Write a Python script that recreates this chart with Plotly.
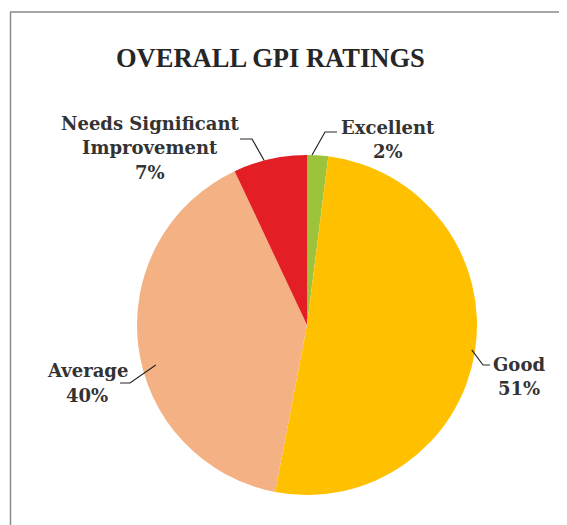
import math
import plotly.graph_objects as go

# ---- data ----
categories = ["Excellent", "Good", "Average", "Needs Significant<br>Improvement"]
values = [2, 51, 40, 7]
colors = ["#9DC23B", "#FFC000", "#F4B183", "#E31E25"]

W, H = 567, 525
OFF = 8  # page body margin offset
CX, CY, R = 307, 325, 170  # pie centre / radius in pixels (as seen on screen)

def px(x):
    return (x - OFF) / W

def py(y):
    return 1 - (y - OFF) / H

fig = go.Figure(go.Pie(
    labels=categories, values=values, sort=False, direction="clockwise",
    rotation=0, marker=dict(colors=colors, line=dict(width=0)),
    textinfo="none", hoverinfo="label+percent", showlegend=False,
    domain=dict(x=[px(CX - R), px(CX + R)], y=[py(CY + R), py(CY - R)]),
))

LINE_GAP = 24.5
label_layout = {
    "Excellent": dict(text_xy=(388, 139.5), elbow=(325, 132), end=(337, 132), start_r=1.0, dang=-1.9),
    "Good": dict(text_xy=(519, 376.5), elbow=(483, 365), end=(490, 365), start_r=0.98, dang=-0.4),
    "Average": dict(text_xy=(87, 383), elbow=(130, 383), end=(120, 383), start_r=0.92, dang=-7.6),
    "Needs Significant<br>Improvement": dict(text_xy=(150, 147.5), elbow=(252, 139), end=(240, 139), start_r=1.0, dang=-2.0),
}

total = sum(values)
cum = 0
font = dict(family="DejaVu Serif", size=18, color="#333333", weight="bold")
for cat, v in zip(categories, values):
    pct = v / total
    lay = label_layout[cat]
    mid = (cum + pct / 2) * 2 * math.pi + math.radians(lay["dang"])
    cum += pct
    sx = CX + R * lay["start_r"] * math.sin(mid)
    sy = CY - R * lay["start_r"] * math.cos(mid)
    ex, ey = lay["elbow"]
    tx, ty = lay["end"]
    fig.add_shape(type="path", xref="paper", yref="paper",
                  path=f"M {px(sx)} {py(sy)} L {px(ex)} {py(ey)} L {px(tx)} {py(ty)}",
                  line=dict(color="#262626", width=1.2))
    lines = cat.split("<br>") + [f"{round(pct * 100)}%"]
    n = len(lines)
    cx0, cy0 = lay["text_xy"]
    for i, t in enumerate(lines):
        yy = cy0 + (i - (n - 1) / 2) * LINE_GAP
        fig.add_annotation(x=px(cx0), y=py(yy), xref="paper", yref="paper",
                           text=t, showarrow=False, font=font,
                           xanchor="center", yanchor="middle")

# title
fig.add_annotation(x=px(270), y=py(58), xref="paper", yref="paper", text="OVERALL GPI RATINGS",
                   showarrow=False, xanchor="center", yanchor="middle",
                   font=dict(family="Liberation Serif", size=26.5, color="#262626", weight="bold"))

# chart frame (partially visible)
fig.add_shape(type="line", xref="paper", yref="paper", x0=px(10.5), x1=px(10.5), y0=py(12), y1=py(540),
              line=dict(color="#8a8a8a", width=1.5))
fig.add_shape(type="line", xref="paper", yref="paper", x0=px(10), x1=px(590), y0=py(12), y1=py(12),
              line=dict(color="#8a8a8a", width=1.5))

fig.update_layout(width=W, height=H, margin=dict(l=0, r=0, t=0, b=0),
                  paper_bgcolor="white", plot_bgcolor="white")
fig.write_html("out.html")
